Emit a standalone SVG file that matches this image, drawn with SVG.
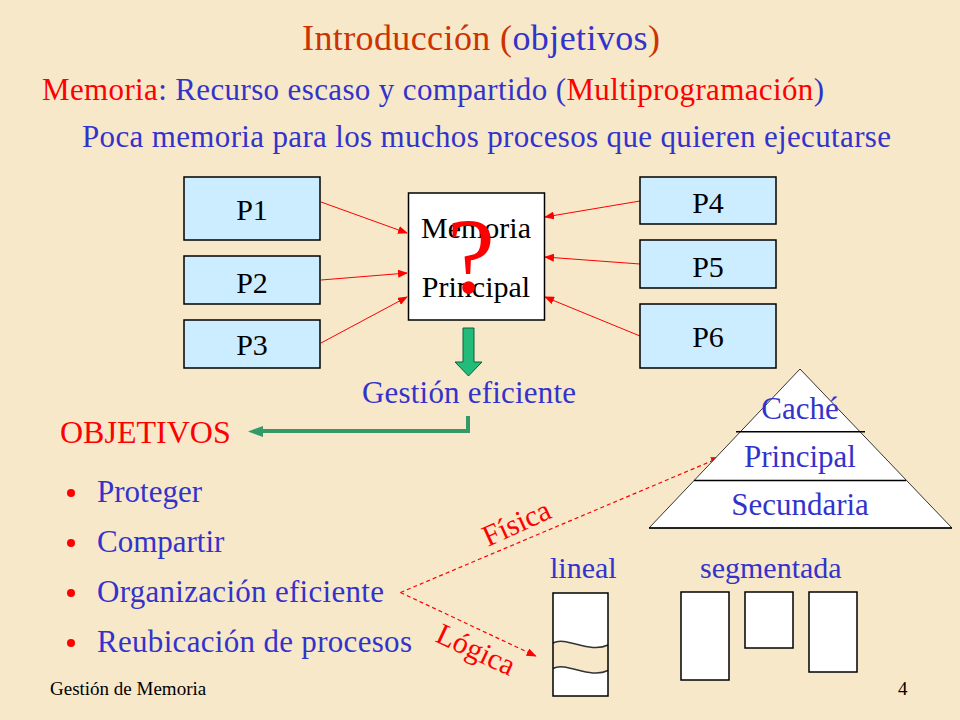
<svg xmlns="http://www.w3.org/2000/svg" width="960" height="720" viewBox="0 0 960 720">
<defs>
<marker id="ar" markerWidth="10" markerHeight="8" refX="9" refY="4" orient="auto" markerUnits="userSpaceOnUse"><path d="M0,0 L10,4 L0,8 z" fill="#FF0000"/></marker>
</defs>
<style>
text{font-family:"Liberation Serif","Times New Roman",serif}
.b{fill:#3333CC}
.r{fill:#FF0000}
.o{fill:#CC3300}
.box{fill:#CCECFF;stroke:#000;stroke-width:1.5}
.wb{fill:#FFFFFF;stroke:#000;stroke-width:1.5}
.lbl{font-size:30px;fill:#000;text-anchor:middle}
.ra{stroke:#FF0000;stroke-width:1;fill:none;marker-end:url(#ar)}
.da{stroke:#FF0000;stroke-width:1.2;stroke-dasharray:4 3;fill:none;marker-end:url(#ar)}
.item{font-size:31px;fill:#3333CC}
.pt{font-size:31px;fill:#3333CC;text-anchor:middle}
</style>
<rect x="0" y="0" width="960" height="720" fill="#F6E8C9"/>

<g id="header">
<text x="302" y="50" font-size="36" textLength="358"><tspan class="o">Introducción </tspan><tspan class="o">(</tspan><tspan class="b">objetivos</tspan><tspan class="o">)</tspan></text>
<text x="42" y="100" font-size="31" textLength="782"><tspan class="r">Memoria</tspan><tspan class="b">: Recurso escaso y compartido (</tspan><tspan class="r">Multiprogramación</tspan><tspan class="b">)</tspan></text>
<text x="82" y="147" font-size="31" class="b" textLength="809">Poca memoria para los muchos procesos que quieren ejecutarse</text>
</g>

<g id="connectors">
<line class="ra" x1="321" y1="202" x2="407" y2="233"/>
<line class="ra" x1="321" y1="280" x2="407" y2="273"/>
<line class="ra" x1="321" y1="343" x2="407" y2="297"/>
<line class="ra" x1="640" y1="201" x2="545" y2="217"/>
<line class="ra" x1="640" y1="264" x2="545" y2="257"/>
<line class="ra" x1="640" y1="336" x2="545" y2="297"/>
<polygon points="463,328 474,328 474,362 482,362 468.5,376 455,362 463,362" fill="#22BB7A" stroke="#0E5E3E" stroke-width="1"/>
<polyline points="468,416 468,431 260,431" fill="none" stroke="#339966" stroke-width="4"/>
<polygon points="248,431.5 263,426 263,437" fill="#339966"/>
<line class="da" x1="400.5" y1="592.5" x2="720" y2="457.5"/>
<line class="da" x1="400.5" y1="592.5" x2="535.7" y2="656"/>
<text transform="translate(488,547) rotate(-24.5)" font-size="30" class="r">Física</text>
<text transform="translate(434,641) rotate(25)" font-size="30" class="r">Lógica</text>
</g>

<g id="P1"><rect class="box" x="184" y="177" width="136" height="63"/><text class="lbl" x="252" y="220">P1</text></g>
<g id="P2"><rect class="box" x="184" y="256" width="136" height="48"/><text class="lbl" x="252" y="293">P2</text></g>
<g id="P3"><rect class="box" x="184" y="320" width="136" height="48"/><text class="lbl" x="252" y="355">P3</text></g>
<g id="P4"><rect class="box" x="640" y="177" width="136" height="47"/><text class="lbl" x="708" y="213">P4</text></g>
<g id="P5"><rect class="box" x="640" y="240" width="136" height="48"/><text class="lbl" x="708" y="277">P5</text></g>
<g id="P6"><rect class="box" x="640" y="304" width="136" height="64"/><text class="lbl" x="708" y="347">P6</text></g>

<g id="memoria">
<rect class="wb" x="408.5" y="193" width="136" height="127"/>
<text class="lbl" x="476" y="238">Memoria</text>
<text class="lbl" x="476" y="297">Principal</text>
<text x="471" y="292" font-size="108" class="r" text-anchor="middle">?</text>
</g>

<g id="gestion"><text x="362" y="403" font-size="31" class="b" textLength="214">Gestión eficiente</text></g>

<g id="objetivos">
<text x="60" y="443" font-size="32" class="r">OBJETIVOS</text>
<circle cx="71" cy="493" r="4" fill="#FF0000"/>
<circle cx="71" cy="543" r="4" fill="#FF0000"/>
<circle cx="71" cy="593" r="4" fill="#FF0000"/>
<circle cx="71" cy="643" r="4" fill="#FF0000"/>
<text class="item" x="97" y="502">Proteger</text>
<text class="item" x="97" y="552">Compartir</text>
<text class="item" x="97" y="602" textLength="287">Organización eficiente</text>
<text class="item" x="97" y="652" textLength="315">Reubicación de procesos</text>
</g>

<g id="piramide">
<polygon points="800,369 649,528 952,528" fill="#FFFFFF" stroke="#333" stroke-width="1"/>
<line x1="736" y1="431.7" x2="865" y2="431.7" stroke="#000" stroke-width="1.5"/>
<line x1="694" y1="480.5" x2="906" y2="480.5" stroke="#000" stroke-width="1.5"/>
<line x1="649" y1="528" x2="952" y2="528" stroke="#000" stroke-width="1.5"/>
<text class="pt" x="800" y="419">Caché</text>
<text class="pt" x="800" y="467">Principal</text>
<text class="pt" x="800" y="515">Secundaria</text>
</g>

<g id="lineal">
<text x="550" y="578" font-size="30" class="b">lineal</text>
<rect x="553" y="593" width="55" height="103" fill="#FFFFFF"/>
<path d="M553,643 C566,636 590,654 608,645 L608,670.5 C590,679.5 566,661.5 553,668.5 Z" fill="#F6E8C9"/>
<path d="M553,643 C566,636 590,654 608,645 M553,668.5 C566,661.5 590,679.5 608,670.5" fill="none" stroke="#333" stroke-width="1.5"/>
<rect x="553" y="593" width="55" height="103" fill="none" stroke="#000" stroke-width="1.5"/>
</g>

<g id="segmentada">
<text x="700" y="578" font-size="30" class="b">segmentada</text>
<rect class="wb" x="681" y="592" width="48" height="88"/>
<rect class="wb" x="745" y="592" width="48" height="56"/>
<rect class="wb" x="809" y="592" width="48" height="80"/>
</g>

<g id="footer">
<text x="50" y="695" font-size="19" fill="#000">Gestión de Memoria</text>
<text x="898" y="695" font-size="19" fill="#000">4</text>
</g>
</svg>
